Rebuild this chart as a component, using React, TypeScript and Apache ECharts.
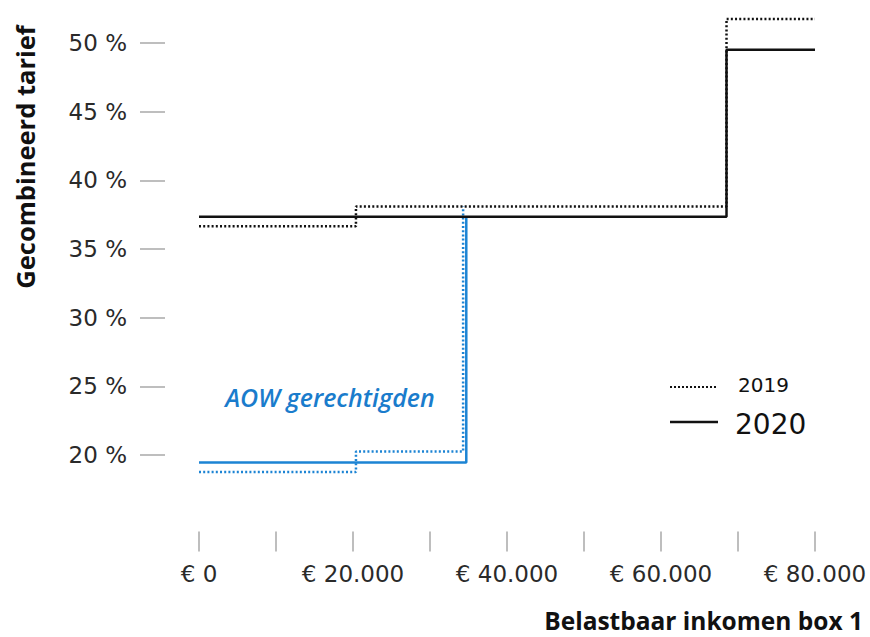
import React, { useEffect, useRef } from "react";
import * as echarts from "echarts";

// Tax brackets (income thresholds) and combined rates in %
const regular2019 = [
  [0, 36.65],
  [20384, 38.1],
  [68507, 51.75],
  [80000, 51.75],
];
const regular2020 = [
  [0, 37.35],
  [68507, 49.5],
  [80000, 49.5],
];
const aow2019 = [
  [0, 18.75],
  [20384, 20.25],
  [34300, 38.1],
];
const aow2020 = [
  [0, 19.45],
  [34712, 37.35],
];
const yTickValues = [20, 25, 30, 35, 40, 45, 50];
const xTickValues = [0, 10000, 20000, 30000, 40000, 50000, 60000, 70000, 80000];
const xLabelValues = [0, 20000, 40000, 60000, 80000];

const BLUE = "#1c84d4";
const FONT = "'Open Sans', sans-serif";
const NUMFONT = "'DejaVu Sans', sans-serif";

export default function App() {
  const ref = useRef<HTMLDivElement>(null);
  useEffect(() => {
    if (!ref.current) return;
    const chart = echarts.init(ref.current, null, { renderer: "svg" });
    const lineSeries = (name: string, data: number[][], color: string, dotted: boolean, z: number) => ({
      name,
      type: "line",
      step: "end",
      data,
      showSymbol: false,
      z,
      lineStyle: {
        color,
        width: 2.5,
        type: dotted ? [2, 2.2] : "solid",
        cap: "butt",
      },
      silent: true,
    });
    chart.setOption({
      animation: false,
      textStyle: { fontFamily: FONT },
      grid: { left: 165, right: 55, top: 15.5, bottom: 113.4, containLabel: false },
      xAxis: {
        type: "value",
        min: -4416,
        max: 80000,
        offset: 8,
        axisLine: { show: false, onZero: false },
        splitLine: { show: false },
        axisTick: {
          show: true,
          customValues: xTickValues,
          length: 20,
          lineStyle: { color: "#a8a8a8", width: 1.5 },
        },
        axisLabel: {
          customValues: xLabelValues,
          margin: 31,
          fontSize: 23,
          color: "#2a2a2a",
          fontFamily: NUMFONT,
          formatter: (v: number) => (v === 0 ? "€ 0" : "€ " + v / 1000 + ".000"),
        },
      },
      yAxis: {
        type: "value",
        min: 15,
        max: 52,
        axisLine: { show: false, onZero: false },
        splitLine: { show: false },
        axisTick: {
          show: true,
          customValues: yTickValues,
          length: 25,
          lineStyle: { color: "#a8a8a8", width: 1.5 },
        },
        axisLabel: {
          customValues: yTickValues,
          margin: 38,
          fontSize: 23,
          color: "#2a2a2a",
          fontFamily: NUMFONT,
          formatter: (v: number) => v + " %",
        },
      },
      series: [
        lineSeries("AOW 2019", aow2019, BLUE, true, 2),
        lineSeries("AOW 2020", aow2020, BLUE, false, 3),
        lineSeries("2019", regular2019, "#111", true, 4),
        lineSeries("2020", regular2020, "#111", false, 5),
      ],
      graphic: [
        {
          type: "text",
          x: 25,
          y: 157,
          rotation: Math.PI / 2,
          style: {
            text: "Gecombineerd tarief",
            font: `bold 25.5px ${FONT}`,
            fill: "#111",
            align: "center",
            verticalAlign: "middle",
          },
        },
        {
          type: "text",
          x: 863,
          y: 620,
          style: {
            text: "Belastbaar inkomen box 1",
            font: `bold 24.5px ${FONT}`,
            fill: "#111",
            align: "right",
            verticalAlign: "middle",
          },
        },
        {
          type: "text",
          x: 330,
          y: 397,
          style: {
            text: "AOW gerechtigden",
            font: `italic 600 25px ${FONT}`,
            fill: "#1a7ccc",
            align: "center",
            verticalAlign: "middle",
          },
        },
        {
          type: "line",
          shape: { x1: 670, y1: 387, x2: 718, y2: 387 },
          style: { stroke: "#111", lineWidth: 2, lineDash: [2, 2] },
        },
        {
          type: "text",
          x: 738,
          y: 385,
          style: {
            text: "2019",
            font: `20px ${NUMFONT}`,
            fill: "#111",
            align: "left",
            verticalAlign: "middle",
          },
        },
        {
          type: "line",
          shape: { x1: 670, y1: 422, x2: 718, y2: 422 },
          style: { stroke: "#111", lineWidth: 2.5 },
        },
        {
          type: "text",
          x: 735,
          y: 424,
          style: {
            text: "2020",
            font: `28px ${NUMFONT}`,
            fill: "#111",
            align: "left",
            verticalAlign: "middle",
          },
        },
      ],
    });
    return () => chart.dispose();
  }, []);
  return (
    <div
      ref={ref}
      style={{ position: "absolute", left: 0, top: 0, width: 870, height: 637, background: "#fff" }}
    />
  );
}
